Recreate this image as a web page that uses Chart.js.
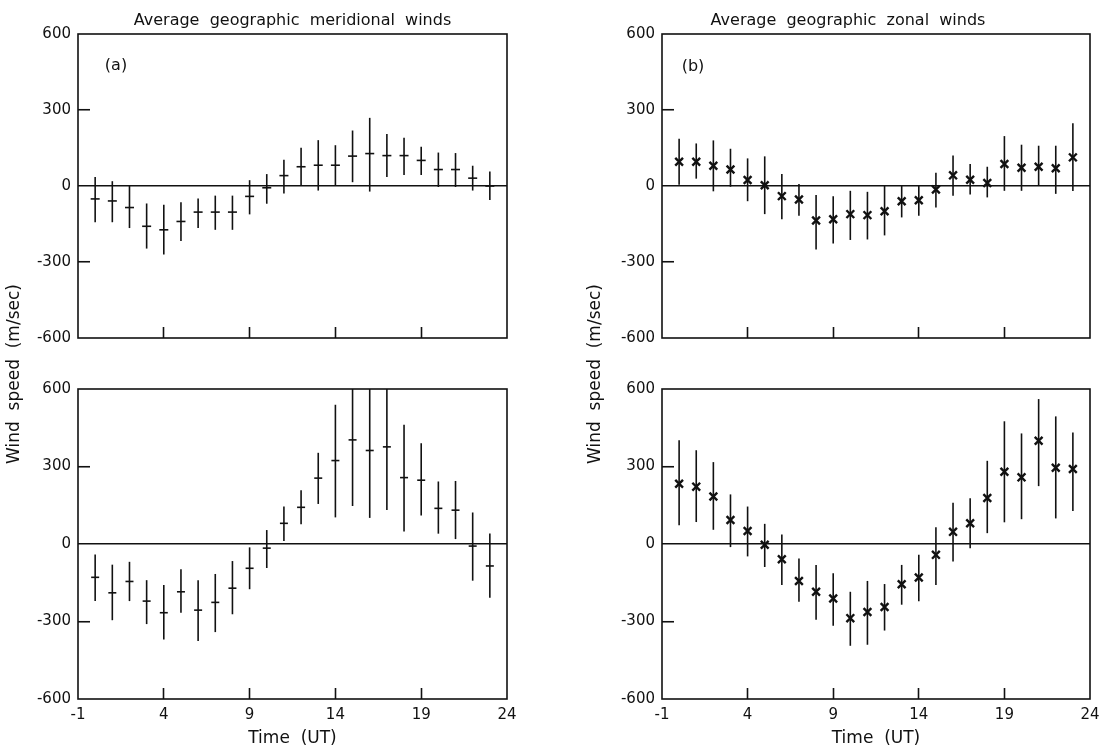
<!DOCTYPE html>
<html>
<head>
<meta charset="utf-8">
<script src="https://cdn.jsdelivr.net/npm/chart.js@4.4.1/dist/chart.umd.min.js"></script>
<style>
html, body { margin: 0; padding: 0; background: #fff; }
#wrap { position: relative; width: 1109px; height: 749px; overflow: hidden; background: #fff; }
#wrap canvas { position: absolute; }
</style>
</head>
<body>
<div id="wrap">
  <canvas id="tl" width="555" height="350" style="left:0;top:0"></canvas>
  <canvas id="tr" width="554" height="350" style="left:555px;top:0"></canvas>
  <canvas id="bl" width="555" height="509" style="left:0;top:240px"></canvas>
  <canvas id="br" width="554" height="509" style="left:555px;top:240px"></canvas>
</div>
<script>
// ---------------- data ----------------
const hours = [0, 1, 2, 3, 4, 5, 6, 7, 8, 9, 10, 11, 12, 13, 14, 15, 16, 17, 18, 19, 20, 21, 22, 23];
const xTicks = [-1, 4, 9, 14, 19, 24];
const yTicks = [-600, -300, 0, 300, 600];

// (a) meridional, upper panel
const merTopMean = [-51, -59, -85, -159, -173, -140, -103, -103, -103, -41, -7, 41, 76, 82, 82, 118, 128, 120, 120, 101, 65, 65, 31, 0];
const merTopHi   = [36, 19, 0, -69, -74, -64, -49, -38, -38, 23, 47, 104, 151, 181, 161, 219, 269, 205, 190, 155, 132, 130, 80, 57];
const merTopLo   = [-143, -143, -166, -247, -270, -217, -166, -173, -173, -112, -70, -30, 0, -18, 0, 15, -22, 36, 43, 43, -4, -4, -18, -55];

// (b) zonal, upper panel
const zonTopMean = [96, 96, 80, 65, 24, 3, -40, -53, -136, -131, -111, -115, -100, -60, -56, -14, 42, 25, 12, 87, 72, 76, 70, 113];
const zonTopHi   = [187, 168, 180, 147, 109, 117, 47, 8, -36, -40, -19, -23, 0, 0, 4, 52, 120, 87, 76, 197, 163, 159, 159, 248];
const zonTopLo   = [5, 29, -21, -3, -60, -111, -131, -117, -251, -227, -213, -211, -195, -124, -117, -85, -38, -34, -45, -19, -19, 3, -31, -20];

// meridional, lower panel
const merBotMean = [-129, -189, -145, -221, -266, -185, -256, -226, -171, -94, -16, 80, 142, 255, 323, 403, 362, 376, 257, 247, 138, 131, -8, -85];
const merBotHi   = [-41, -80, -69, -140, -159, -98, -140, -116, -66, -13, 54, 145, 208, 353, 539, 650, 650, 650, 462, 390, 242, 244, 122, 41];
const merBotLo   = [-221, -295, -221, -310, -370, -266, -375, -341, -272, -175, -93, 12, 76, 155, 103, 147, 101, 132, 48, 110, 40, 19, -142, -208];

// zonal, lower panel
const zonBotMean = [233, 222, 184, 93, 50, -3, -59, -143, -185, -211, -287, -263, -244, -156, -130, -42, 47, 80, 178, 280, 258, 400, 295, 290];
const zonBotHi   = [402, 363, 317, 192, 145, 78, 37, -56, -81, -113, -185, -143, -155, -81, -42, 65, 160, 177, 322, 475, 428, 561, 494, 432];
const zonBotLo   = [73, 85, 55, -12, -48, -89, -159, -224, -293, -316, -394, -390, -335, -235, -222, -159, -68, -16, 42, 84, 96, 224, 99, 128];

// ---------------- styling ----------------
const INK = '#111';
const NONE = 'rgba(0,0,0,0)';
const FONT = 'DejaVu Sans';

const framePlugin = {
  id: 'frame',
  afterDatasetsDraw(chart) {
    const a = chart.chartArea, ctx = chart.ctx;
    ctx.save();
    ctx.strokeStyle = INK;
    ctx.lineWidth = 1.6;
    ctx.strokeRect(a.left, a.top, a.right - a.left, a.bottom - a.top);
    ctx.restore();
  }
};

const errorBarPlugin = {
  id: 'errorBars',
  beforeDatasetsDraw(chart) {
    const ctx = chart.ctx, a = chart.chartArea;
    const xs = chart.scales.x, ys = chart.scales.y;
    ctx.save();
    ctx.beginPath();
    ctx.rect(a.left, a.top, a.right - a.left, a.bottom - a.top);
    ctx.clip();
    chart.data.datasets.forEach(ds => {
      if (!ds.errorBars) return;
      ctx.strokeStyle = INK;
      ctx.lineWidth = ds.errorBars.width;
      ds.data.forEach((p, i) => {
        const x = xs.getPixelForValue(p.x);
        ctx.beginPath();
        ctx.moveTo(x, ys.getPixelForValue(ds.errorBars.lo[i]));
        ctx.lineTo(x, ys.getPixelForValue(ds.errorBars.hi[i]));
        ctx.stroke();
      });
    });
    ctx.restore();
  }
};

const textPlugin = {
  id: 'textLayer',
  afterDraw(chart, args, opts) {
    const ctx = chart.ctx;
    (opts.items || []).forEach(it => {
      ctx.save();
      ctx.fillStyle = INK;
      ctx.font = it.font;
      ctx.textAlign = 'center';
      ctx.textBaseline = 'middle';
      ctx.translate(it.x, it.y);
      if (it.rotate) ctx.rotate(it.rotate);
      ctx.fillText(it.text, 0, 0);
      ctx.restore();
    });
  }
};

function makePanel(id, cfg) {
  const points = hours.map((h, i) => ({ x: h, y: cfg.mean[i] }));
  return new Chart(document.getElementById(id), {
    type: 'scatter',
    data: {
      datasets: [{
        data: points,
        pointStyle: cfg.marker,
        pointRadius: cfg.markerRadius,
        pointBorderWidth: cfg.markerWidth,
        pointBorderColor: INK,
        pointBackgroundColor: INK,
        showLine: false,
        errorBars: { lo: cfg.lo, hi: cfg.hi, width: 1.6 }
      }]
    },
    options: {
      responsive: false,
      animation: false,
      events: [],
      layout: { padding: cfg.padding },
      plugins: {
        legend: { display: false },
        tooltip: { enabled: false },
        title: cfg.title ? {
          display: true,
          text: cfg.title,
          fullSize: cfg.titleFull,
          color: INK,
          font: { family: FONT, size: 16, weight: 'normal', lineHeight: 1.2 },
          padding: { top: 11.4, bottom: 3.4 }
        } : { display: false },
        textLayer: { items: cfg.texts }
      },
      scales: {
        x: {
          type: 'linear',
          min: -1, max: 24,
          afterBuildTicks: s => { s.ticks = xTicks.map(v => ({ value: v })); },
          afterFit: s => { s.height = cfg.xHeight; s.paddingLeft = 0; s.paddingRight = 0; },
          border: { display: false },
          grid: {
            drawOnChartArea: false,
            drawTicks: true,
            tickLength: -11,
            tickWidth: 1.6,
            tickColor: c => (c.tick && [4, 9, 14, 19].includes(c.tick.value)) ? INK : NONE
          },
          ticks: {
            display: cfg.xLabels,
            padding: 18,
            color: INK,
            autoSkip: false,
            maxRotation: 0,
            font: { family: FONT, size: 15 },
            callback: v => String(v)
          },
          title: cfg.xLabels ? {
            display: true,
            text: 'Time  (UT)',
            color: INK,
            font: { family: FONT, size: 17, lineHeight: 1.2 },
            padding: { top: 0, bottom: 0 }
          } : { display: false }
        },
        y: {
          type: 'linear',
          min: -600, max: 600,
          afterBuildTicks: s => { s.ticks = yTicks.map(v => ({ value: v })); },
          afterFit: s => { s.width = cfg.yWidth; s.paddingTop = 0; s.paddingBottom = 0; },
          border: { display: false },
          grid: {
            color: c => (c.tick && c.tick.value === 0) ? INK : NONE,
            lineWidth: 1.5,
            drawTicks: true,
            tickLength: -12,
            tickWidth: 1.6,
            tickColor: c => (c.tick && Math.abs(c.tick.value) === 300) ? INK : NONE
          },
          ticks: {
            padding: 19,
            color: INK,
            font: { family: FONT, size: 15 },
            callback: v => String(v)
          }
        }
      }
    },
    plugins: [errorBarPlugin, framePlugin, textPlugin]
  });
}

const labelFont = '16px "' + FONT + '"';
const yTitleFont = '17px "' + FONT + '"';
const yTitle = 'Wind  speed  (m/sec)';

makePanel('tl', {
  mean: merTopMean, lo: merTopLo, hi: merTopHi,
  marker: 'line', markerRadius: 4.5, markerWidth: 1.6,
  title: 'Average  geographic  meridional  winds', titleFull: false,
  padding: { left: 0, right: 48, top: 0, bottom: 0 },
  yWidth: 78, xHeight: 12, xLabels: false,
  texts: [{ text: '(a)', x: 116, y: 66, font: labelFont }]
});
makePanel('tr', {
  mean: zonTopMean, lo: zonTopLo, hi: zonTopHi,
  marker: 'crossRot', markerRadius: 5.5, markerWidth: 2.4,
  title: 'Average  geographic  zonal  winds', titleFull: true,
  padding: { left: 51, right: 19, top: 0, bottom: 0 },
  yWidth: 56, xHeight: 12, xLabels: false,
  texts: [{ text: '(b)', x: 138, y: 67, font: labelFont }]
});
makePanel('bl', {
  mean: merBotMean, lo: merBotLo, hi: merBotHi,
  marker: 'line', markerRadius: 4, markerWidth: 1.6,
  title: null, titleFull: false,
  padding: { left: 0, right: 48, top: 149, bottom: 0 },
  yWidth: 78, xHeight: 50, xLabels: true,
  texts: [{ text: yTitle, x: 15, y: 134, rotate: -Math.PI / 2, font: yTitleFont }]
});
makePanel('br', {
  mean: zonBotMean, lo: zonBotLo, hi: zonBotHi,
  marker: 'crossRot', markerRadius: 5.5, markerWidth: 2.4,
  title: null, titleFull: false,
  padding: { left: 0, right: 19, top: 149, bottom: 0 },
  yWidth: 107, xHeight: 50, xLabels: true,
  texts: [{ text: yTitle, x: 41, y: 134, rotate: -Math.PI / 2, font: yTitleFont }]
});
</script>
</body>
</html>
